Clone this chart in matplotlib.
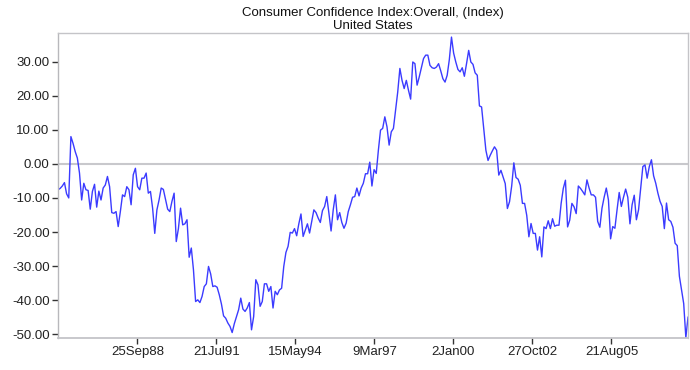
import numpy as np
import pandas as pd
import matplotlib
matplotlib.use("Agg")
import matplotlib.pyplot as plt

plt.rcParams['font.family'] = ['Liberation Sans', 'DejaVu Sans']

# index values, one every 28 days starting late Nov 1985
vals_1986_89 = [-7.6, -7.2, -6.5, -5.5, -8.8, -10.0, 8.0, 6.0, 3.6, 1.7,
                -2.7, -10.6, -5.7, -7.6, -7.8, -13.3, -8.1, -6.0, -12.7, -8.0,
                -10.6, -7.1, -6.2, -3.7, -6.7, -14.3, -14.5, -14.0, -18.4, -14.0,
                -9.1, -9.6, -6.7, -7.6, -12.0, -3.2, -1.3, -6.7, -7.6, -4.2,
                -4.2, -2.7, -8.6, -8.1, -13.0, -20.4, -13.5, -10.6, -7.1, -7.5]
vals_1989_93 = [-10.4, -13.3, -14.0, -11.0, -8.6, -22.8, -19.0, -13.0, -17.9, -17.6,
                -16.4, -27.4, -24.7, -31.1, -40.4, -39.9, -40.7, -38.9, -36.0, -35.2,
                -30.1, -32.3, -36.0, -35.8, -36.2, -38.4, -41.1, -44.6, -45.3, -46.7,
                -47.7, -49.5, -46.9, -44.8, -42.8, -39.4, -42.6, -43.3, -42.3, -40.7,
                -48.7, -44.8, -34.0, -35.5, -41.8, -40.4, -35.2, -35.2]
vals_1993_97 = [-37.4, -36.0, -42.3, -37.4, -38.4, -37.0, -36.5, -30.1, -26.0, -24.2,
                -20.1, -20.3, -19.0, -21.1, -17.6, -14.7, -21.3, -19.4, -17.6, -20.3,
                -16.9, -13.5, -14.3, -15.9, -17.2, -13.7, -12.5, -9.6, -14.5, -19.7,
                -13.5, -9.1, -16.4, -14.3, -17.2, -18.9, -17.4, -14.0, -12.0, -9.8,
                -9.6, -7.1, -9.4, -7.1, -5.7, -2.9, -2.9, 0.5, -6.5, -1.7]
vals_1997_00 = [-2.8, 4.0, 9.9, 10.4, 13.8, 10.9, 5.5, 9.4, 10.4,
                15.7, 21.1, 28.0, 24.5, 22.1, 24.5, 21.6, 19.0, 29.9, 29.4,
                23.1, 25.5, 28.2, 30.9, 31.9, 31.9, 28.9, 28.2, 28.0, 28.4,
                29.4, 27.3, 25.0, 24.0, 26.0, 30.6, 37.2, 32.5, 29.9, 27.7,
                27.0, 28.2, 25.7, 29.4, 33.3, 29.9, 29.2, 26.7, 26.0]
vals_2000_04 = [17.0, 16.7, 10.4, 4.0, 1.0, 2.5, 3.8, 5.0, 4.0,
                -3.3, -1.9, -3.8, -5.8, -13.1, -11.1, -6.5, 0.3, -4.0, -4.5,
                -6.3, -11.6, -11.6, -15.1, -21.4, -17.5, -20.4, -20.4, -25.3, -21.4,
                -27.3, -18.5, -19.0, -16.7, -19.0, -16.1, -18.3, -18.0, -18.0, -11.6,
                -7.2, -4.8, -18.5, -16.5, -11.6, -12.6, -14.6, -6.5, -7.2]
vals_2004_08 = [-8.1, -9.1, -4.7, -7.1, -9.1, -9.1, -9.8, -16.9, -18.6, -13.0,
                -9.8, -7.1, -10.6, -22.0, -18.4, -18.9, -13.5, -8.4, -12.5, -9.8,
                -7.4, -9.8, -17.6, -12.0, -9.2, -16.4, -13.5, -7.1, -0.8, -0.3,
                -4.2, -0.8, 1.2, -3.5, -5.7, -8.6, -11.0, -12.5, -19.0, -11.5,
                -16.4, -16.9, -18.6, -23.3, -24.0, -33.0, -37.0, -41.0, -51.0, -45.0]

values = vals_1986_89 + vals_1989_93 + vals_1993_97 + vals_1997_00 + vals_2000_04 + vals_2004_08
dates = pd.date_range('1985-11-27', periods=len(values), freq='28D')

tick_dates = pd.to_datetime(['1988-09-25', '1991-07-21', '1994-05-15', '1997-03-09',
                             '2000-01-02', '2002-10-27', '2005-08-21'])
tick_labels = ['25Sep88', '21Jul91', '15May94', '9Mar97', '2Jan00', '27Oct02', '21Aug05']
y_ticks = [30, 20, 10, 0, -10, -20, -30, -40, -50]

fig = plt.figure(figsize=(6.9, 3.7), dpi=100)
ax = fig.add_axes([58/690, 1 - 338/370, 630/690, 305/370])

ax.axhline(0, color='#c8c8cc', lw=1.5, zorder=1)
ax.plot(dates, values, color='#3b3bff', lw=1.0, zorder=2)

ax.set_xlim(dates[0], dates[-1])
ax.set_ylim(-51.1, 38.4)
ax.set_yticks(y_ticks)
ax.set_yticklabels(['%.2f' % v for v in y_ticks])
ax.set_xticks(tick_dates)
ax.set_xticklabels(tick_labels)

for s in ax.spines.values():
    s.set_color('#c4c4c8')
    s.set_linewidth(1.0)
ax.spines['left'].set_color('#b8b8bc')
ax.spines['bottom'].set_linewidth(1.3)

ax.tick_params(axis='y', direction='out', length=4, width=1, color='#333333',
               labelsize=9.5, labelcolor='#222222', pad=2)
ax.tick_params(axis='x', direction='out', length=4, width=1, color='#333333',
               labelsize=9.5, labelcolor='#222222', pad=2)

ax.set_title('Consumer Confidence Index:Overall, (Index)\nUnited States',
             fontsize=9.5, color='#111111', linespacing=1.05, pad=3)

fig.savefig('out.png', dpi=100)
